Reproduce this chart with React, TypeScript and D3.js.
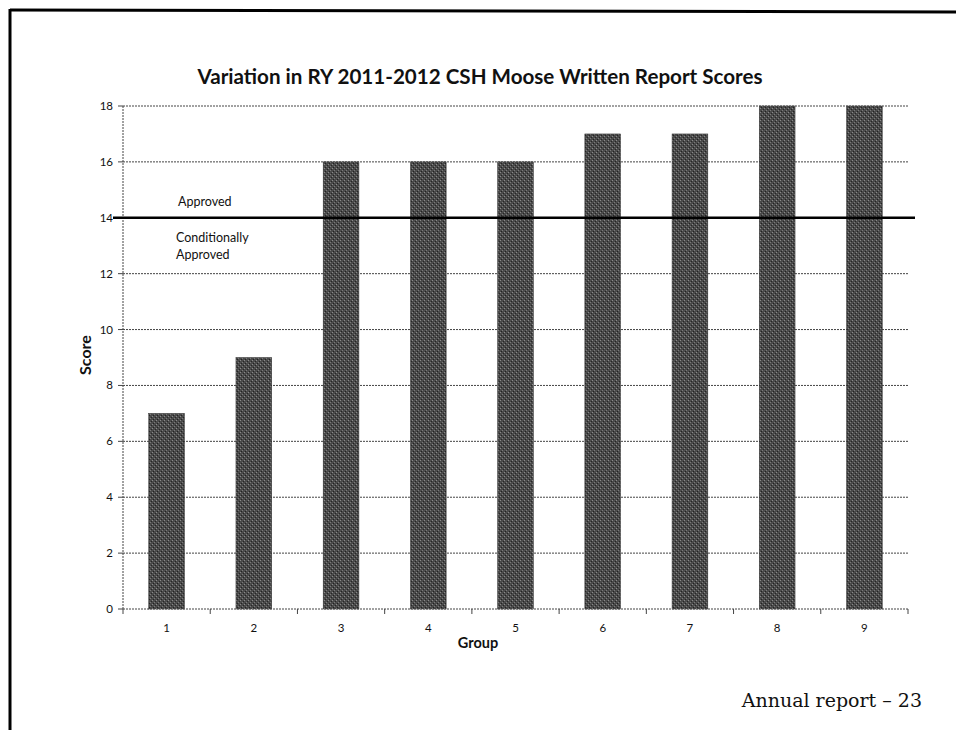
import React from "react";
import * as d3 from "d3";

const groups = ["1", "2", "3", "4", "5", "6", "7", "8", "9"];
const scores = [7, 9, 16, 16, 16, 17, 17, 18, 18];
const yTicks = [0, 2, 4, 6, 8, 10, 12, 14, 16, 18];
const threshold = 14;
const title = "Variation in RY 2011-2012 CSH Moose Written Report Scores";

export default function App() {
  const W = 956, H = 730;
  const left = 123, right = 908, top = 106, bottom = 609;
  const x = d3.scaleBand<string>().domain(groups).range([left, right]).paddingInner(0.59).paddingOuter(0.295);
  const xb = d3.scaleBand<string>().domain(groups).range([left, right]);
  const y = d3.scaleLinear().domain([0, 18]).range([bottom, top]);
  const font = "Lato, 'Open Sans', sans-serif";
  return (
    <svg width={W} height={H} style={{ position: "absolute", left: 0, top: 0 }}>
      <defs>
        <pattern id="grain" width="4" height="4" patternUnits="userSpaceOnUse">
          <rect width="4" height="4" fill="#4a4a4a" />
          <rect x="0" y="0" width="1" height="1" fill="#8a8a8a" />
          <rect x="2" y="2" width="1" height="1" fill="#7a7a7a" />
          <rect x="1" y="3" width="1" height="1" fill="#222" />
          <rect x="3" y="1" width="1" height="1" fill="#262626" />
        </pattern>
      </defs>
      <rect width={W} height={H} fill="#fff" />
      <line x1={10} y1={10} x2={W} y2={12} stroke="#000" strokeWidth={3} />
      <line x1={10} y1={9} x2={10} y2={H} stroke="#000" strokeWidth={3} />
      <text x={480} y={84} textAnchor="middle" fontFamily={font} fontWeight="bold" fontSize={20.6} fill="#111">{title}</text>
      {yTicks.map(t => (
        <g key={t}>
          {t > 0 && <line x1={left} x2={right} y1={y(t)} y2={y(t)} stroke="#444" strokeWidth={1} strokeDasharray="2,1" />}
          <line x1={left - 5} x2={left} y1={y(t)} y2={y(t)} stroke="#444" />
          <text x={left - 10} y={y(t) + 4} textAnchor="end" fontFamily={font} fontSize={11.5} fill="#111">{t}</text>
        </g>
      ))}
      <line x1={left} x2={left} y1={top} y2={bottom} stroke="#444" strokeDasharray="2,1" />
      <line x1={left} x2={right} y1={bottom} y2={bottom} stroke="#444" strokeDasharray="2,1" />
      {groups.map(g => (
        <line key={"t" + g} x1={xb(g) as number} x2={xb(g) as number} y1={bottom} y2={bottom + 5} stroke="#444" />
      ))}
      <line x1={right} x2={right} y1={bottom} y2={bottom + 5} stroke="#444" />
      {groups.map((g, i) => (
        <rect key={g} x={x(g)} y={y(scores[i])} width={x.bandwidth()} height={bottom - y(scores[i])} fill="url(#grain)" stroke="#333" strokeWidth={0.5} />
      ))}
      {groups.map(g => (
        <text key={"l" + g} x={(xb(g) as number) + xb.bandwidth() / 2} y={bottom + 23} textAnchor="middle" fontFamily={font} fontSize={11.5} fill="#111">{g}</text>
      ))}
      <line x1={113} x2={915} y1={y(threshold)} y2={y(threshold)} stroke="#000" strokeWidth={2.5} />
      <text x={178} y={206} fontFamily={font} fontSize={12.5} fill="#111">Approved</text>
      <text x={176} y={242} fontFamily={font} fontSize={12.5} fill="#111">Conditionally</text>
      <text x={176} y={259} fontFamily={font} fontSize={12.5} fill="#111">Approved</text>
      <text transform={`translate(91,355) rotate(-90)`} textAnchor="middle" fontFamily={font} fontWeight="bold" fontSize={16} fill="#111">Score</text>
      <text x={478} y={648} textAnchor="middle" fontFamily={font} fontWeight="bold" fontSize={14.5} fill="#111">Group</text>
      <text x={922} y={707} textAnchor="end" fontFamily="'DejaVu Serif', 'Liberation Serif', serif" fontSize={19} fill="#111">Annual report – 23</text>
    </svg>
  );
}
